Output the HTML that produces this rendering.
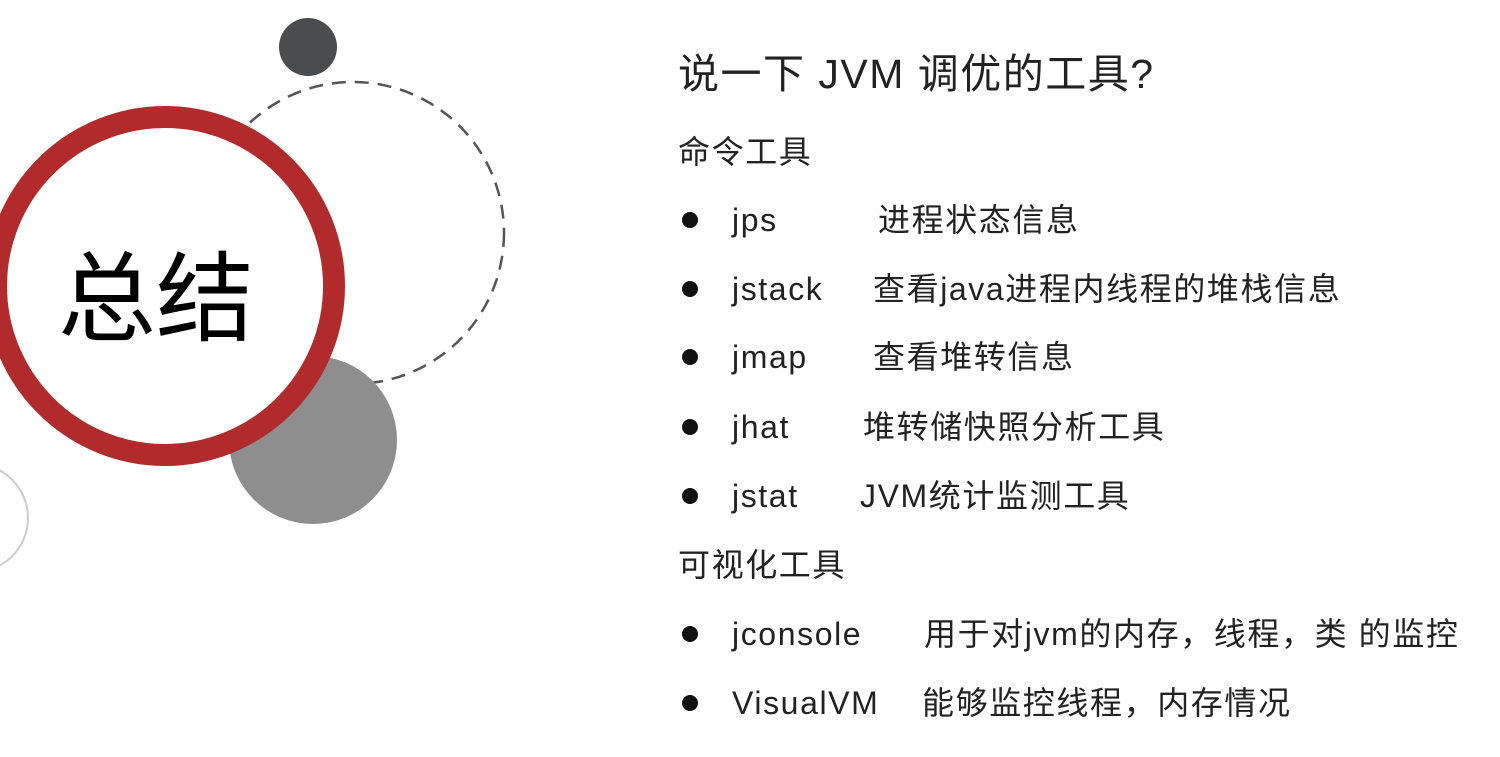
<!DOCTYPE html>
<html><head><meta charset="utf-8"><style>
body{margin:0;width:1500px;height:757px;background:#fff;overflow:hidden;position:relative;font-family:"Liberation Sans","Noto Sans CJK SC",sans-serif;color:#222}
.t{position:absolute;white-space:nowrap;line-height:1;font-size:32px;letter-spacing:1.6px}
.b{position:absolute;width:16px;height:16px;border-radius:50%;background:#111}
</style></head><body>
<svg width="1500" height="757" style="position:absolute;left:0;top:0">
<circle cx="-26" cy="518" r="54" fill="none" stroke="#ccc" stroke-width="2"/>
<circle cx="353" cy="233" r="151" fill="none" stroke="#555" stroke-width="2.5" stroke-dasharray="14 9"/>
<circle cx="308" cy="47" r="29" fill="#4a4c4d"/>
<circle cx="313" cy="440" r="84" fill="#8e8e8e"/>
<circle cx="165" cy="286" r="169" fill="#fff" stroke="#b12a2c" stroke-width="22"/>
</svg>
<div class="t" style="left:58px;top:250px;font-size:98px;color:#000;letter-spacing:0">总结</div>
<div class="t" style="left:678px;top:54px;font-size:41px;letter-spacing:1.5px">说一下 JVM 调优的工具?</div>
<div class="t" style="left:678px;top:136px">命令工具</div>
<div class="b" style="left:682px;top:212px"></div><div class="t" style="left:732px;top:204px">jps</div><div class="t" style="left:878px;top:204px">进程状态信息</div>
<div class="b" style="left:682px;top:281px"></div><div class="t" style="left:732px;top:273px">jstack</div><div class="t" style="left:873px;top:273px">查看java进程内线程的堆栈信息</div>
<div class="b" style="left:682px;top:349px"></div><div class="t" style="left:732px;top:341px">jmap</div><div class="t" style="left:873px;top:341px">查看堆转信息</div>
<div class="b" style="left:682px;top:419px"></div><div class="t" style="left:732px;top:411px">jhat</div><div class="t" style="left:863px;top:411px">堆转储快照分析工具</div>
<div class="b" style="left:682px;top:488px"></div><div class="t" style="left:732px;top:480px">jstat</div><div class="t" style="left:860px;top:480px">JVM统计监测工具</div>
<div class="t" style="left:678px;top:549px">可视化工具</div>
<div class="b" style="left:682px;top:626px"></div><div class="t" style="left:732px;top:618px">jconsole</div><div class="t" style="left:924px;top:618px">用于对jvm的内存，线程，类 的监控</div>
<div class="b" style="left:682px;top:695px"></div><div class="t" style="left:732px;top:687px">VisualVM</div><div class="t" style="left:922px;top:687px">能够监控线程，内存情况</div>
</body></html>
